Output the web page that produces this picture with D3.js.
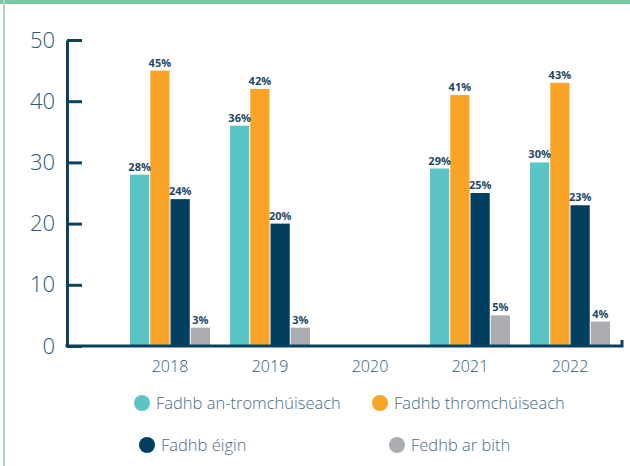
<!DOCTYPE html>
<html>
<head>
<meta charset="utf-8">
<script src="https://cdn.jsdelivr.net/npm/d3@7"></script>
<style>
  body { margin: 0; background: #fff; }
  svg { display: block; font-family: "Open Sans", sans-serif; }
</style>
</head>
<body>
<div id="chart"></div>
<script>
// ----- Grouped bar chart -----

const years = ["2018", "2019", "2020", "2021", "2022"];
const seriesNames = ["Fadhb an-tromchúiseach", "Fadhb thromchúiseach", "Fadhb éigin", "Fedhb ar bith"];
const seriesColors = ["#5bc5c6", "#f9a427", "#003f5f", "#acadb1"];
const valAnTrom = [28, 36, null, 29, 30];
const valTrom = [45, 42, null, 41, 43];
const valEigin = [24, 20, null, 25, 23];
const valArBith = [3, 3, null, 5, 4];
const yTicks = [0, 10, 20, 30, 40, 50];

const allValues = [valAnTrom, valTrom, valEigin, valArBith];

const width = 630;
const height = 466;
const axisColor = "#0b4261";
const textColor = "#2b5876";

const svg = d3.select("#chart")
    .append("svg")
    .attr("width", width)
    .attr("height", height);

// frame border (green top bar and left rule)
svg.append("rect")
    .attr("x", 0).attr("y", 0)
    .attr("width", width).attr("height", 4)
    .attr("fill", "#77c8a6");
svg.append("rect")
    .attr("x", 3).attr("y", 0)
    .attr("width", 2).attr("height", height)
    .attr("fill", "#a3dbc4");

const yAxisX = 67;
const y = d3.scaleLinear().domain([0, 50]).range([346, 40]);

const x0 = d3.scaleBand()
    .domain(years)
    .range([120, 620])
    .paddingInner(0.2)
    .paddingOuter(0.1);

const x1 = d3.scaleBand()
    .domain(seriesNames)
    .range([0, x0.bandwidth()])
    .paddingInner(0.05);

const color = d3.scaleOrdinal().domain(seriesNames).range(seriesColors);

// flatten into records
const records = [];
years.forEach((yr, i) => {
    seriesNames.forEach((s, j) => {
        const v = allValues[j][i];
        if (v != null) records.push({ year: yr, series: s, value: v });
    });
});

svg.append("g")
    .selectAll("rect")
    .data(records)
    .enter().append("rect")
    .attr("x", d => x0(d.year) + x1(d.series))
    .attr("y", d => y(d.value))
    .attr("width", x1.bandwidth())
    .attr("height", d => y(0) - y(d.value))
    .attr("fill", d => color(d.series));

svg.append("g")
    .selectAll("text")
    .data(records)
    .enter().append("text")
    .attr("x", d => x0(d.year) + x1(d.series) + x1.bandwidth() / 2)
    .attr("y", d => y(d.value) - 4)
    .attr("text-anchor", "middle")
    .style("font-size", "11px")
    .style("font-weight", "bold")
    .style("fill", "#1d4766")
    .text(d => d.value + "%");

// y axis
const yAxis = svg.append("g")
    .attr("transform", `translate(${yAxisX},0)`)
    .call(d3.axisLeft(y).tickValues(yTicks).tickSizeInner(-15).tickSizeOuter(0).tickPadding(12));
yAxis.selectAll("path, line")
    .attr("stroke", axisColor)
    .attr("stroke-width", 3);
yAxis.selectAll("text")
    .style("font-size", "22px")
    .style("font-family", "'Open Sans', sans-serif")
    .style("font-weight", 300)
    .attr("fill", textColor);

// x axis baseline with small upturn at the end
const xEnd = 622;
svg.append("path")
    .attr("d", `M${yAxisX - 1.5},${y(0)}H${xEnd}V${y(0) - 6}`)
    .attr("fill", "none")
    .attr("stroke", axisColor)
    .attr("stroke-width", 3);

svg.append("g")
    .selectAll("text")
    .data(years)
    .enter().append("text")
    .attr("x", d => x0(d) + x0.bandwidth() / 2)
    .attr("y", 372)
    .attr("text-anchor", "middle")
    .style("font-size", "16px")
    .style("font-weight", 300)
    .style("fill", textColor)
    .text(d => d);

// legend
const legendPos = [[142, 403], [380, 403], [147, 445], [397, 445]];
const legend = svg.append("g")
    .selectAll("g")
    .data(seriesNames)
    .enter().append("g")
    .attr("transform", (d, i) => `translate(${legendPos[i][0]},${legendPos[i][1]})`);

legend.append("circle")
    .attr("r", 8)
    .attr("fill", color);

legend.append("text")
    .attr("x", 14)
    .attr("dy", "0.35em")
    .style("font-size", "16.5px")
    .style("font-weight", 300)
    .style("fill", "#4b6b86")
    .text(d => d);
</script>
</body>
</html>
